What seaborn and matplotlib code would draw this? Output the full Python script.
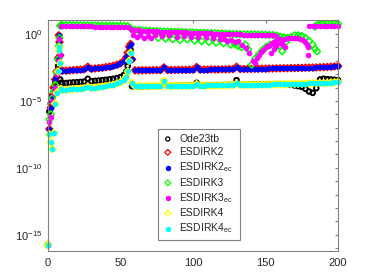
import numpy as np
import matplotlib
matplotlib.use("Agg")
import matplotlib.pyplot as plt
from matplotlib.ticker import FixedLocator, LogFormatterMathtext, NullFormatter
import seaborn as sns

# time grid shared by Ode23tb, ESDIRK2(_ec) and ESDIRK4(_ec)
t_grid = [0, 1, 2, 3, 4, 5, 6, 7, 7.5, 8, 8.5, 9,
          10, 12.5, 15, 17.5, 20, 22.5, 25, 27.5, 30, 32.5, 35, 37.5, 40, 42.5, 45, 47.5, 50, 52.5,
          54, 55, 56, 57, 58,
          60, 62.5, 65, 67.5, 70, 72.5, 75, 77.5, 80, 82.5, 85, 87.5, 90, 92.5, 95, 97.5, 100,
          102.5, 105, 107.5, 110, 112.5, 115, 117.5, 120, 122.5, 125, 127.5, 130,
          132.5, 135, 137.5, 140, 142.5, 145, 147.5, 150, 152.5, 155, 157.5, 160, 162.5, 165,
          167.5, 170, 172.5, 175, 177.5, 180, 182.5, 185, 187.5, 190, 192.5, 195, 197.5, 200]

# error values stored as log10 exponents
ode23tb_exp = [-15.75, -5.8, -5.2, -4.6, -4.0, -3.6, -3.2, -2.4, -1.8, -2.6, -3.4, -3.65,
               -3.68, -3.66, -3.64, -3.62, -3.6, -3.58, -3.56, -3.35, -3.53, -3.5, -3.48, -3.45, -3.42, -3.39, -3.35, -3.3, -3.22, -3.05,
               -2.8, -2.4, -1.7, -1.2, -3.9,
               -3.92, -3.92, -3.91, -3.91, -3.9, -3.9, -3.89, -3.89, -3.6, -3.88, -3.88, -3.87, -3.87, -3.86, -3.86, -3.85, -3.85,
               -3.65, -3.84, -3.84, -3.83, -3.83, -3.82, -3.82, -3.81, -3.81, -3.8, -3.8, -3.45,
               -3.79, -3.79, -3.78, -3.78, -3.77, -3.77, -3.76, -3.76, -3.75, -3.75, -3.74, -3.74, -3.74, -3.76,
               -3.8, -3.85, -3.9, -3.95, -4.1, -4.3, -4.4, -4.05, -3.4, -3.35, -3.38, -3.4, -3.42, -3.45]

esdirk2_exp = [-15.75, -7.1, -5.5, -4.6, -4.0, -3.4, -2.8, -1.8, -0.1, -0.6, -1.6, -2.7,
               -2.75, -2.74, -2.72, -2.7, -2.68, -2.66, -2.64, -2.45, -2.6, -2.58, -2.55, -2.52, -2.48, -2.44, -2.38, -2.3, -2.2, -2.0,
               -1.75, -1.4, -0.95, -0.75, -1.9,
               -2.72, -2.72, -2.71, -2.71, -2.71, -2.7, -2.7, -2.7, -2.5, -2.69, -2.69, -2.69, -2.68, -2.68, -2.68, -2.67, -2.67,
               -2.47, -2.66, -2.66, -2.66, -2.65, -2.65, -2.65, -2.64, -2.64, -2.63, -2.63, -2.45,
               -2.62, -2.62, -2.61, -2.61, -2.6, -2.6, -2.59, -2.59, -2.58, -2.58, -2.57, -2.57, -2.56, -2.56,
               -2.55, -2.55, -2.54, -2.53, -2.52, -2.52, -2.51, -2.5, -2.49, -2.48, -2.47, -2.45, -2.43, -2.4]

esdirk4_exp = [-15.75, -7.5, -8.1, -8.6, -7.4, -5.2, -4.4, -2.8, -1.2, -1.0, -2.2, -4.1,
               -4.18, -4.16, -4.14, -4.12, -4.1, -4.08, -4.06, -3.95, -4.03, -4.0, -3.97, -3.93, -3.89, -3.84, -3.78, -3.7, -3.6, -3.45,
               -3.2, -2.8, -2.0, -1.4, -3.65,
               -3.9, -3.9, -3.9, -3.9, -3.9, -3.9, -3.9, -3.89, -3.5, -3.89, -3.89, -3.88, -3.88, -3.88, -3.87, -3.87, -3.87,
               -3.75, -3.86, -3.86, -3.85, -3.85, -3.85, -3.84, -3.84, -3.83, -3.83, -3.82, -3.7,
               -3.82, -3.81, -3.81, -3.8, -3.8, -3.79, -3.79, -3.78, -3.78, -3.77, -3.77, -3.76, -3.75, -3.75,
               -3.74, -3.73, -3.72, -3.72, -3.71, -3.7, -3.69, -3.68, -3.67, -3.66, -3.65, -3.63, -3.61, -3.58]

esdirk3_t = [0, 1, 2, 3, 4, 5, 6, 7, 7.5, 8, 8.5,
             9, 10, 12.5, 15, 17.5, 20, 22.5, 25, 27.5, 30, 32.5, 35, 37.5, 40, 42.5, 45, 47.5, 50, 52.5, 55,
             57, 60, 62.5, 65, 67.5, 70, 72.5, 75, 77.5, 80, 82.5, 85, 87.5, 90, 92.5, 95, 97.5, 100, 102.5, 105,
             107.5, 110, 112.5, 115, 117.5, 120, 122.5, 125, 127.5, 130, 132.5, 135, 137.5, 140, 142.5, 145,
             147.5, 150, 152.5, 155, 157.5, 160, 162.5, 165,
             76, 81, 86, 91, 96, 101, 106, 111, 116, 121, 126, 129, 131, 133.5, 136, 138, 140.5, 143, 145.5, 148,
             150.5, 153, 156, 159, 161.5, 164, 167, 170, 172.5, 175, 177.5, 180, 182.5, 184, 185.5,
             184, 186, 188, 190, 192.5, 195, 197.5, 200]
esdirk3_exp = [-15.75, -6.4, -6.0, -4.8, -4.3, -3.8, -2.9, -1.9, -0.9, -0.3, 0.6,
               0.66, 0.66, 0.66, 0.66, 0.65, 0.65, 0.65, 0.64, 0.64, 0.64, 0.63, 0.63, 0.63, 0.62, 0.62, 0.62, 0.61, 0.61, 0.6, 0.58,
               0.42, 0.3, 0.28, 0.27, 0.25, 0.24, 0.22, 0.21, 0.2, 0.19, 0.18, 0.17, 0.16, 0.15, 0.14, 0.13, 0.12, 0.11, 0.1, 0.09,
               0.08, 0.07, 0.06, 0.05, 0.04, 0.03, 0.02, 0.01, 0.0, -0.01, -0.02, -0.03, -0.03, -0.04, -0.04, -0.05,
               -0.05, -0.06, -0.07, -0.08, -0.12, -0.2, -0.25, -0.3,
               -0.3, -0.35, -0.4, -0.45, -0.4, -0.5, -0.55, -0.6, -0.65, -0.7, -0.8, -0.75, -0.9, -1.0, -0.8, -1.15, -2.3, -1.85, -1.5, -1.2,
               -0.95, -0.8, -0.7, -0.9, -1.3, -0.6, -0.25, -0.1, -0.1, -0.15, -0.3, -0.5, -0.8, -1.1, -1.3,
               0.55, 0.72, 0.73, 0.73, 0.74, 0.74, 0.75, 0.75]

esdirk3ec_t = [0, 1, 2, 3, 4, 5, 6, 7, 7.5, 8, 8.5,
               9, 10, 12.5, 15, 17.5, 20, 22.5, 25, 27.5, 30, 32.5, 35, 37.5, 40, 42.5, 45, 47.5, 50, 52.5, 55,
               57, 58, 60, 62.5, 65, 67.5, 70, 72.5, 75, 77.5, 80, 82.5, 85, 87.5, 90, 92.5, 95, 97.5, 100, 102.5, 105,
               107.5, 110, 112.5, 115, 117.5, 120, 122.5, 125, 127.5, 130, 132.5, 135, 137.5, 140, 142.5, 145,
               147.5, 150, 152.5, 155, 157.5, 160,
               58.75, 61.25, 63.75, 66.25, 68.75, 71.25, 73.75, 78.75, 83.75, 88.75, 93.75, 98.75, 103.75, 108.75,
               113.75, 118.75, 121.25, 123.75, 126.25, 128.75, 131.25, 133.75, 136.25, 138.75, 141.25, 142.5, 144,
               145.5, 147, 148.5, 150, 151.5, 153, 154.5, 156, 157.5, 159, 160.5, 162, 163.5,
               153.5, 155.5, 157.5, 159.5, 161.5, 163.5, 165.5, 167.5, 169.5, 171.5, 173.5, 175.5, 177, 178.5, 179.5, 179.3,
               180, 182.5, 185, 187.5, 190, 192.5, 195, 197.5, 200]
esdirk3ec_exp = [-15.75, -6.6, -6.2, -5.0, -4.4, -4.0, -3.0, -2.0, -0.4, -0.9, -1.6,
                 0.58, 0.58, 0.58, 0.58, 0.57, 0.57, 0.57, 0.56, 0.56, 0.56, 0.55, 0.55, 0.55, 0.54, 0.54, 0.54, 0.53, 0.53, 0.52, 0.5,
                 0.4, 0.3, 0.28, 0.26, 0.25, 0.23, 0.22, 0.2, 0.19, 0.18, 0.17, 0.16, 0.15, 0.14, 0.13, 0.12, 0.11, 0.1, 0.09, 0.08, 0.07,
                 0.06, 0.05, 0.04, 0.03, 0.02, 0.01, 0.0, -0.01, -0.02, -0.03, -0.04, -0.05, -0.05, -0.06, -0.06, -0.07,
                 -0.07, -0.08, -0.09, -0.1, -0.15, -0.4,
                 -0.1, -0.25, -0.1, -0.3, -0.15, -0.3, -0.1, -0.15, -0.1, -0.2, -0.15, -0.2, -0.25, -0.2,
                 -0.3, -0.35, -0.4, -0.5, -0.45, -0.6, -0.55, -0.8, -1.05, -1.45, -2.0, -2.2, -1.8,
                 -1.55, -1.35, -1.2, -1.0, -0.9, -0.8, -0.7, -0.6, -0.5, -0.5, -0.6, -0.8, -1.0,
                 -1.45, -1.15, -0.9, -0.7, -0.5, -0.4, -0.32, -0.3, -0.28, -0.3, -0.35, -0.45, -0.6, -0.8, -0.95, -1.6,
                 0.58, 0.58, 0.59, 0.59, 0.59, 0.6, 0.6, 0.6, 0.6]

labels = ["Ode23tb", "ESDIRK2", "ESDIRK2$_{ec}$", "ESDIRK3", "ESDIRK3$_{ec}$", "ESDIRK4", "ESDIRK4$_{ec}$"]

sns.set_style("white")
plt.rcParams["font.family"] = ["Liberation Sans", "DejaVu Sans"]
plt.rcParams["mathtext.default"] = "regular"

fig = plt.figure(figsize=(3.74, 2.8), dpi=100)
ax = fig.add_axes([0.128, 0.104, 0.776, 0.825])

# (label, t, exponents, marker, colour, filled, size, edge width)
series = [
    (labels[0], t_grid, ode23tb_exp, "o", "black", False, 11, 1.4),
    (labels[1], t_grid, esdirk2_exp, "D", "red", False, 12, 1.2),
    (labels[2], t_grid, esdirk2_exp, "o", "blue", True, 16, 0),
    (labels[3], esdirk3_t, esdirk3_exp, "D", "#00ff00", False, 12, 1.1),
    (labels[4], esdirk3ec_t, esdirk3ec_exp, "o", "magenta", True, 16, 0),
    (labels[5], t_grid, esdirk4_exp, "D", "yellow", False, 12, 1.2),
    (labels[6], t_grid, esdirk4_exp, "o", "cyan", True, 16, 0),
]

for label, t, e, marker, color, filled, size, lw in series:
    y = 10.0 ** np.asarray(e)
    if filled:
        sns.scatterplot(x=t, y=y, ax=ax, marker=marker, s=size, color=color,
                        edgecolor=color, linewidth=0, label=label, clip_on=False)
    else:
        sns.scatterplot(x=t, y=y, ax=ax, marker=marker, s=size, color=color,
                        facecolor="none", edgecolor=color, linewidth=lw,
                        label=label, clip_on=False)

ax.set_yscale("log")
ax.set_xlim(0, 200)
ax.set_ylim(10 ** -16.2, 10 ** 1.05)
ax.set_xticks([0, 50, 100, 150, 200])
ax.yaxis.set_major_locator(FixedLocator([1e-15, 1e-10, 1e-5, 1e0]))
ax.yaxis.set_major_formatter(LogFormatterMathtext())
ax.yaxis.set_minor_locator(FixedLocator([10.0 ** k for k in range(-16, 2)]))
ax.yaxis.set_minor_formatter(NullFormatter())

ax.tick_params(which="both", direction="in", top=True, right=True,
               color="#808080", width=0.8, length=2.5)
ax.tick_params(which="major", labelsize=8, labelcolor="#262626")
ax.tick_params(axis="x", pad=5)
ax.tick_params(axis="y", pad=4)
for sp in ax.spines.values():
    sp.set_color("#808080")
    sp.set_linewidth(0.8)

leg = ax.legend(loc="center", bbox_to_anchor=(0.379, 0.043, 0.283, 0.489), mode="expand",
                fontsize=7.5, frameon=True, fancybox=False, edgecolor="#808080",
                framealpha=1, handlelength=1.0, handletextpad=0.6, labelspacing=0.32,
                borderpad=0.45, scatterpoints=1, borderaxespad=0)
leg.get_frame().set_linewidth(0.8)
for h in leg.legend_handles:
    h.set_sizes([9])
    if h.get_linewidth() is not None:
        h.set_linewidth(0.9)

fig.savefig("out.png", dpi=100)
